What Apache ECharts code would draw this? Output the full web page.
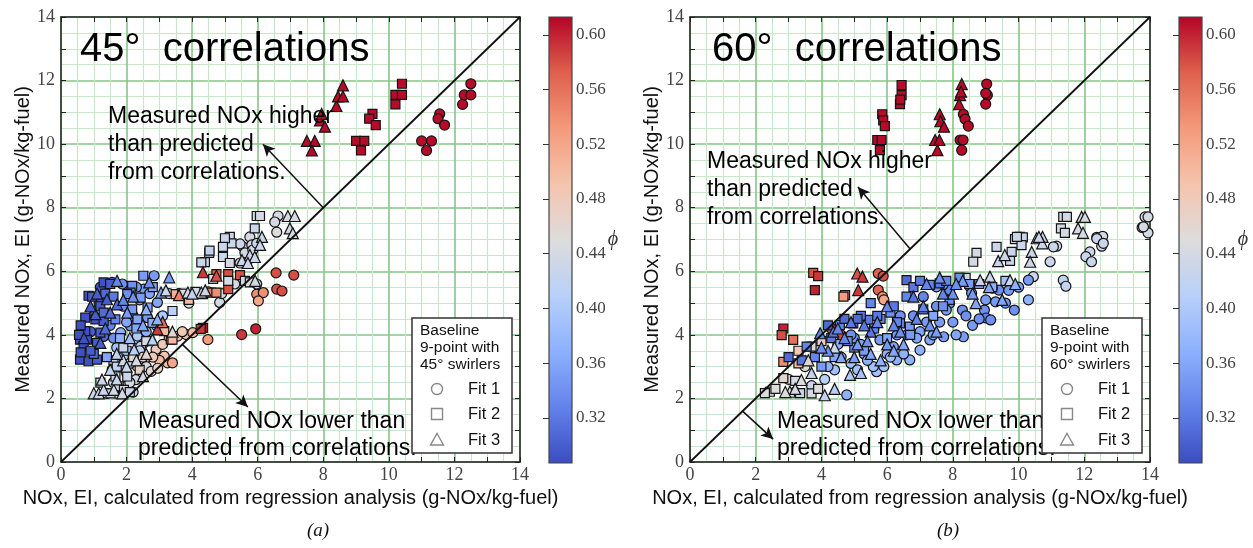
<!DOCTYPE html>
<html>
<head>
<meta charset="utf-8">
<script src="https://cdn.jsdelivr.net/npm/echarts@6/dist/echarts.min.js"></script>
<style>
html, body { margin: 0; padding: 0; background: #fff; }
#chart { width: 1253px; height: 548px; }
</style>
</head>
<body>
<div id="chart"></div>
<script>
// Equivalence-ratio range shown on the colour bars
const phiRange = [0.287, 0.613];
const phiTicks = [0.32, 0.36, 0.40, 0.44, 0.48, 0.52, 0.56, 0.60];
const axisRange = [0, 14];
const diagonal = [[0, 0], [14, 14]];

// Points are [calculated EI, measured EI, phi]
const fit1_45 = [
  [11.0,10.1,.61],[11.3,10.1,.61],[11.15,9.8,.61],[11.55,10.95,.61],[11.5,10.8,.61],[11.7,10.6,.61],
  [12.25,11.25,.61],[12.3,11.55,.61],[12.5,11.55,.61],[12.5,11.9,.61],
  [6.56,5.95,.58],[7.1,5.88,.58],[6.58,5.44,.58],[6.74,5.38,.58],[5.51,4.01,.59],[5.94,4.19,.6],
  [5.97,5.28,.54],[6.17,5.33,.54],[6.02,5.07,.52],[4.48,3.85,.53],
  [3.25,3.12,.5],[3.4,3.12,.52],[3.15,3.33,.49],[2.9,3.54,.48],[2.53,3.75,.49],[2.33,3.0,.48],
  [3.56,3.96,.5],[3.82,4.01,.49],[4.02,4.07,.5],[2.58,3.27,.49],[3.0,3.2,.5],[3.7,4.1,.48],[3.3,3.9,.5],
  [6.62,7.74,.44],[6.52,7.55,.44],[6.58,7.23,.45],[5.76,7.08,.44],[5.55,6.77,.43],[5.82,6.83,.44],
  [5.46,6.26,.44],[5.67,6.29,.43],[5.61,6.58,.44],[5.85,6.67,.44],[5.97,6.88,.43],[4.84,5.02,.44],
  [5.97,5.6,.43],[5.46,6.86,.43],
  [1.4,2.16,.42],[1.71,2.16,.43],[1.97,2.38,.43],[1.56,2.9,.43],[1.82,3.0,.42],[2.28,2.59,.44],
  [2.84,5.86,.35],[1.87,5.6,.34],[2.53,5.44,.35],[2.12,4.28,.35],[2.64,4.54,.35],[2.94,5.02,.36],
  [1.82,4.07,.37],[2.33,3.96,.4],[2.43,3.64,.42],[1.56,5.65,.3],[1.0,4.6,.3],[1.3,3.95,.31],
  [1.9,3.3,.41],[2.1,3.1,.43],[2.6,3.0,.44],[2.0,2.8,.44],[1.7,3.6,.39],[2.2,4.6,.36],[2.6,4.1,.37],
  [2.9,4.3,.38],[3.1,4.6,.4],[3.3,5.3,.43],[3.6,5.3,.44],[1.5,4.3,.33],[1.9,4.9,.34],[2.4,5.1,.35],
  [2.75,2.85,.46],[2.95,2.95,.47],
  [1.2,5.5,.3],[0.9,4.1,.3],[1.6,3.9,.34],[2.3,5.5,.35],[2.7,5.3,.36],[2.0,4.4,.36],[2.4,3.5,.42],
  [1.6,2.5,.43],[2.1,2.5,.44],[2.5,3.3,.46],[2.8,3.3,.48],[3.1,3.7,.48],[1.9,2.2,.43],[2.2,2.2,.43],
  [4.5,5.35,.43],[4.9,5.3,.44],[5.3,5.6,.44],[3.9,5.0,.45]
];
const fit2_45 = [
  [9.0,10.1,.61],[9.25,10.1,.61],[9.15,9.8,.61],[9.5,10.95,.61],[9.4,10.8,.61],[9.6,10.6,.61],
  [10.2,11.55,.61],[10.2,11.25,.61],[10.4,11.55,.61],[10.4,11.9,.61],
  [5.1,5.91,.58],[5.46,5.88,.58],[4.74,5.91,.57],[5.1,5.44,.58],[4.33,4.22,.6],[4.26,4.19,.59],
  [4.33,5.28,.54],[4.58,5.33,.55],[4.74,5.33,.54],[3.35,3.85,.55],
  [3.5,5.28,.51],[3.71,5.28,.52],[3.4,3.85,.5],[3.15,4.12,.5],[3.9,5.1,.5],
  [5.97,7.74,.44],[6.07,7.74,.44],[5.91,7.35,.43],[5.15,7.08,.43],[5.2,6.88,.43],[5.0,7.04,.43],
  [4.52,6.58,.42],[4.39,6.29,.43],[4.94,6.45,.43],[5.15,6.26,.44],[4.94,6.77,.43],[4.53,6.65,.42],
  [4.28,6.28,.43],[4.64,5.76,.44],[5.1,5.7,.44],[5.61,5.7,.44],[5.76,5.65,.45],
  [1.3,5.65,.29],[1.5,5.6,.3],[0.84,5.23,.29],[1.15,5.02,.29],[1.2,4.9,.3],[0.74,4.54,.29],
  [1.05,4.49,.29],[1.3,4.43,.3],[0.58,3.85,.29],[0.79,3.85,.29],[1.1,3.75,.3],[0.58,3.22,.29],
  [0.84,3.17,.29],[1.1,3.22,.3],[0.74,4.12,.29],[1.2,4.07,.3],[0.69,3.64,.29],[0.6,4.3,.29],
  [0.95,5.2,.3],[0.6,3.45,.29],[1.0,3.4,.31],
  [2.51,5.86,.35],[2.17,5.54,.34],[2.12,5.33,.34],[2.43,5.17,.35],[2.17,4.8,.35],[2.64,4.86,.36],
  [1.66,4.49,.33],[2.79,4.38,.37],[2.02,5.28,.34],[2.33,4.49,.36],[3.4,4.75,.41],[1.8,3.9,.37],[2.0,3.5,.39],
  [1.51,2.16,.43],[1.76,2.38,.43],[1.92,2.27,.44],[1.66,2.69,.43],[2.02,2.69,.43],[2.2,3.3,.46],
  [1.6,3.2,.44],[2.4,2.9,.47],[1.9,3.6,.43],
  [0.55,4.0,.29],[0.9,3.5,.3],[1.35,5.3,.31],[1.6,5.2,.32],[1.3,4.7,.31],[2.8,5.5,.36],[2.3,4.2,.36],
  [1.4,3.3,.36],[1.7,3.0,.42],[2.1,2.2,.43],[2.6,3.8,.44],[3.7,5.3,.44],[4.1,5.35,.44],[1.2,2.5,.43]
];
const fit3_45 = [
  [7.5,10.1,.61],[7.74,10.1,.61],[7.65,9.8,.61],[7.9,10.75,.61],[8.05,10.55,.61],[8.4,11.2,.61],
  [8.45,11.5,.61],[8.6,11.5,.61],[8.6,11.85,.61],[7.95,10.95,.61],
  [4.33,5.97,.59],[4.74,5.86,.58],[2.94,4.17,.59],[3.6,5.25,.55],[3.1,4.4,.56],
  [6.92,7.74,.44],[7.13,7.74,.44],[6.98,7.35,.44],[7.07,7.2,.44],[6.13,7.08,.43],[6.07,6.83,.43],
  [5.76,6.51,.43],[5.91,6.45,.43],[5.52,6.35,.43],[5.7,6.26,.43],[3.87,5.33,.44],[4.28,5.33,.44],
  [5.92,5.7,.44],[4.0,5.3,.42],
  [1.4,5.12,.3],[1.71,4.96,.31],[1.05,4.65,.3],[1.2,3.75,.3],[1.5,4.7,.31],[3.3,5.81,.35],
  [2.69,5.65,.34],[1.71,5.7,.33],[3.05,5.33,.36],[2.94,4.49,.37],[2.02,4.7,.35],[2.23,3.54,.41],
  [2.79,3.85,.41],[1.9,5.1,.33],[2.5,4.3,.36],
  [1.0,2.16,.43],[1.15,2.16,.43],[1.3,2.27,.43],[1.25,2.59,.43],[1.61,2.27,.44],[1.87,2.16,.44],
  [1.5,2.9,.42],[1.9,3.2,.43],[2.3,3.2,.44],[1.7,3.4,.42],[2.6,3.4,.46],
  [1.1,5.3,.3],[0.9,4.9,.3],[0.7,3.9,.29],[1.35,4.2,.31],[2.2,5.2,.34],[2.6,4.8,.37],[2.1,3.9,.39],
  [2.0,3.0,.43],[2.5,2.7,.44],[1.7,2.6,.43],[3.4,4.1,.46],[3.2,5.4,.43],[4.4,5.4,.43]
];

const fit1_60 = [
  [9.03,11.89,.61],[9.05,11.54,.61],[9.0,11.26,.61],[8.32,10.94,.61],[8.37,10.79,.61],[8.47,10.57,.61],
  [8.22,10.13,.61],[8.31,10.13,.61],[8.27,9.81,.61],[9.0,11.6,.61],
  [5.73,5.93,.57],[5.88,5.85,.58],[5.73,5.41,.57],[5.86,5.2,.54],[5.9,5.1,.52],[4.3,4.2,.57],[4.6,4.0,.58],
  [13.85,7.71,.44],[13.94,7.71,.44],[13.76,7.38,.44],[13.94,7.21,.44],[12.38,7.07,.44],[12.56,7.1,.44],
  [12.53,6.79,.44],[11.16,6.79,.43],[11.06,6.77,.43],[10.96,6.3,.43],[12.17,6.61,.43],[12.05,6.46,.43],
  [12.22,6.3,.43],[12.38,7.03,.43],[12.58,6.88,.43],[11.36,5.72,.42],[11.44,5.53,.42],[10.45,5.83,.43],
  [13.8,7.4,.44],
  [10.3,5.72,.35],[9.87,4.78,.34],[8.96,4.78,.34],[9.01,4.53,.33],[9.15,4.47,.34],[9.3,5.04,.35],
  [9.4,5.41,.34],[9.2,5.47,.35],[8.52,5.51,.34],[8.57,5.31,.35],[8.29,4.78,.34],[7.9,5.41,.33],
  [7.9,4.99,.34],[7.7,5.57,.34],[7.5,5.51,.35],[7.8,4.78,.35],[7.72,3.94,.35],[8.32,3.94,.35],
  [4.77,2.11,.37],[5.68,2.84,.39],[5.78,3.84,.35],[6.19,3.63,.36],[6.69,3.21,.37],[6.29,3.21,.37],
  [5.58,3.0,.39],[7.3,3.84,.36],[7.0,3.52,.37],[6.8,4.6,.34],[7.2,4.4,.35],[6.3,4.0,.35],[5.3,3.4,.37],
  [4.9,3.1,.39],[4.4,2.9,.39],[4.1,2.6,.41],[3.7,2.4,.43],[3.2,2.2,.44],[8.6,4.3,.35],[10.3,5.1,.37],
  [9.6,5.0,.35],[7.0,4.1,.36],[6.0,3.4,.37],[5.2,3.7,.36],[8.0,4.4,.35],
  [4.2,3.0,.37],[4.6,3.3,.37],[5.0,3.9,.35],[5.4,3.2,.37],[5.9,3.0,.39],[6.1,3.3,.39],[6.5,3.4,.37],
  [6.6,4.0,.35],[6.9,3.9,.36],[7.4,4.0,.36],[7.6,4.4,.35],[8.1,4.0,.36],[8.4,4.6,.34],[8.8,4.5,.34],
  [9.0,5.1,.35],[9.7,5.4,.35],[10.0,5.5,.36],[7.1,5.2,.33],[7.5,4.9,.34],[6.4,4.6,.34],[5.6,4.2,.35],
  [4.9,4.0,.34],[5.1,2.9,.39],[4.5,3.7,.37],[3.9,3.6,.41],[3.5,3.0,.45],[3.0,2.6,.46]
];
const fit2_60 = [
  [6.44,11.86,.61],[6.44,11.54,.61],[6.39,11.26,.61],[5.85,10.94,.61],[5.88,10.75,.61],[5.93,10.57,.61],
  [5.7,10.13,.61],[5.83,10.13,.61],[5.78,9.81,.61],[6.4,11.4,.61],
  [3.75,5.95,.58],[3.9,5.85,.59],[3.8,5.41,.6],[2.84,4.2,.6],[2.79,3.99,.58],[3.14,3.84,.56],
  [4.72,5.25,.54],[4.67,5.2,.53],[2.84,3.15,.54],[3.3,3.1,.5],
  [11.36,7.71,.44],[11.47,7.71,.44],[11.29,7.35,.44],[11.41,7.21,.44],[10.04,7.08,.43],[10.13,7.07,.43],
  [9.89,7.01,.43],[8.72,6.58,.44],[8.62,6.3,.44],[9.33,6.77,.43],[9.79,6.61,.43],[9.74,6.33,.43],
  [10.09,6.82,.43],[9.95,7.08,.43],[8.39,5.79,.43],
  [2.43,2.21,.45],[2.28,2.17,.45],[2.84,2.64,.46],[3.7,2.16,.44],[3.35,2.17,.43],[3.7,3.63,.46],
  [3.3,3.5,.48],[4.0,3.8,.47],
  [4.97,4.36,.31],[5.43,4.47,.32],[4.56,4.31,.33],[3.55,3.63,.33],[6.59,5.72,.31],[6.59,5.2,.33],
  [7.3,5.57,.33],[7.6,5.62,.32],[6.39,4.36,.34],[6.69,4.26,.35],[5.8,4.5,.33],[6.1,4.7,.34],
  [7.9,5.1,.34],[8.5,5.6,.35],[9.2,5.5,.37],[6.0,3.9,.36],[5.0,3.6,.35],[4.4,3.3,.36],[7.4,4.6,.36],
  [5.5,5.0,.33],[3.0,3.3,.31],[4.0,3.0,.35],[5.2,4.6,.32],
  [4.2,4.3,.31],[4.7,4.5,.31],[5.1,4.5,.31],[5.7,4.6,.32],[6.2,4.9,.32],[6.8,5.5,.32],[7.0,5.7,.32],
  [7.8,5.7,.33],[8.2,5.8,.34],[8.8,5.6,.35],[5.6,4.2,.33],[6.3,4.4,.33],[7.1,4.8,.33],[7.7,4.9,.34],
  [4.8,3.8,.34],[5.3,3.5,.35],[3.8,3.3,.33],[3.4,3.2,.32],[4.3,3.9,.32],[6.7,4.0,.35],[9.6,5.7,.39],
  [3.9,2.3,.45],[2.6,2.3,.45],[3.2,2.55,.44]
];
const fit3_60 = [
  [8.27,11.89,.61],[8.22,11.54,.61],[8.19,11.26,.61],[7.6,10.94,.61],[7.62,10.72,.61],[7.73,10.55,.61],
  [7.46,10.13,.61],[7.59,10.13,.61],[7.53,9.81,.61],[8.25,11.65,.61],
  [5.09,5.93,.58],[5.25,5.83,.59],[5.12,5.41,.59],
  [11.92,7.71,.44],[12.02,7.71,.44],[11.81,7.35,.44],[11.96,7.21,.44],[10.55,7.04,.43],[10.73,7.08,.43],
  [9.38,6.32,.43],[9.58,6.51,.43],[10.4,6.61,.43],[10.35,6.3,.43],[10.72,6.88,.43],[10.62,7.08,.43],
  [9.74,5.72,.43],[8.83,5.72,.43],[9.13,5.83,.43],
  [4.1,2.1,.42],[3.39,2.58,.45],[3.04,2.21,.45],[3.2,2.3,.44],[2.9,2.2,.45],[4.87,2.74,.4],
  [4.4,3.6,.43],[3.6,3.2,.46],
  [4.36,4.1,.32],[3.96,4.05,.33],[5.0,3.3,.35],[5.5,4.1,.32],[6.2,4.3,.33],[6.8,5.2,.32],[7.1,4.9,.33],
  [7.6,5.8,.34],[8.0,5.3,.34],[8.3,5.7,.35],[5.8,3.2,.37],[6.5,3.7,.36],[7.3,4.3,.34],[4.7,3.9,.33],
  [5.3,4.3,.32],[6.0,4.9,.33],[8.7,5.0,.36],[9.5,5.1,.36],[4.2,3.5,.34],
  [4.0,3.6,.34],[4.5,4.2,.33],[4.9,4.4,.32],[5.4,3.8,.34],[5.7,4.4,.33],[6.0,3.7,.35],[6.4,4.1,.34],
  [6.9,4.5,.33],[7.2,5.6,.33],[7.7,5.3,.33],[8.1,5.6,.34],[8.6,5.3,.35],[9.1,5.5,.36],[9.9,5.6,.37],
  [7.5,4.1,.35],[5.1,3.7,.35],[5.5,3.4,.36],[6.2,3.5,.36],[4.6,3.3,.36],[3.7,2.8,.42],[4.4,2.3,.41],
  [5.2,2.8,.39]
];

// Annotation arrows: [fromX, fromY, toX, toY]
const arrows45 = [[8, 8, 6.16, 10.0], [3.7, 3.7, 5.7, 1.73]];
const arrows60 = [[6.7, 6.7, 5.11, 8.65], [1.6, 1.6, 2.53, 0.72]];

const fitNames = ['Fit 1', 'Fit 2', 'Fit 3'];
const fitSymbols = ['circle', 'rect', 'triangle'];
const fitSizes = [10, 9, 11];

// matplotlib "coolwarm"
const coolwarm = ['#3b4cc0', '#6282ea', '#8db0fe', '#b8d0f9', '#dddcdc', '#f5c4ad', '#f49a7b', '#de604d', '#b40426'];

const SANS = '"Liberation Sans", Arial, sans-serif';
const SERIF = '"Liberation Serif", "DejaVu Serif", serif';
const MAJOR = '#86c686';
const MINOR = '#c8e6c8';
const FRAME = '#222';

const panels = [
  { left: 61, width: 459, cb: 549, fits: [fit1_45, fit2_45, fit3_45], arrows: arrows45,
    title: '45°  correlations', titleX: 80, upX: 108, lowX: 138, legX: 412, swirl: '45', phiX: 613, cap: '(a)', capX: 318 },
  { left: 690, width: 460, cb: 1179, fits: [fit1_60, fit2_60, fit3_60], arrows: arrows60,
    title: '60°  correlations', titleX: 712, upX: 707, lowX: 777, legX: 1042, swirl: '60', phiX: 1243, cap: '(b)', capX: 948 }
];
const TOP = 17, HEIGHT = 445;

const grids = [], xAxes = [], yAxes = [], series = [], graphics = [];
const scatterIdx = [];

function frameAxes(gi, isX) {
  const base = { type: 'value', gridIndex: gi, min: axisRange[0], max: axisRange[1] };
  const line = { show: true, onZero: false, lineStyle: { color: FRAME, width: 1.5 } };
  const tick = { show: true, inside: true, length: 5, lineStyle: { color: FRAME, width: 1 } };
  const main = Object.assign({}, base, {
    position: isX ? 'bottom' : 'left', interval: 2,
    axisLine: line, axisTick: { show: false },
    axisLabel: { show: true, margin: isX ? 4 : 6, fontFamily: SERIF, fontSize: 18, color: '#444' },
    splitLine: { show: true, lineStyle: { color: MAJOR, width: 1.6 } },
    minorTick: { show: false, splitNumber: 4 },
    minorSplitLine: { show: true, lineStyle: { color: MINOR, width: 1.2 } },
    name: isX ? 'NOx, EI, calculated from regression analysis (g-NOx/kg-fuel)' : 'Measured NOx, EI (g-NOx/kg-fuel)',
    nameLocation: 'middle', nameGap: isX ? 21 : 27,
    nameTextStyle: { fontFamily: SANS, fontSize: 20, color: '#111' }
  });
  const near = Object.assign({}, base, {
    position: isX ? 'bottom' : 'left', interval: 1,
    axisLine: { show: false }, axisTick: tick, axisLabel: { show: false }, splitLine: { show: false }
  });
  const far = Object.assign({}, base, {
    position: isX ? 'top' : 'right', interval: 1,
    axisLine: line, axisTick: tick, axisLabel: { show: false }, splitLine: { show: false }
  });
  return [main, near, far];
}

panels.forEach((p, k) => {
  const gi = grids.length;
  grids.push({ left: p.left, top: TOP, width: p.width, height: HEIGHT, containLabel: false });
  const axIndex = xAxes.length;
  xAxes.push(...frameAxes(gi, true));
  yAxes.push(...frameAxes(gi, false));

  // y = x reference line with the two annotation arrows
  series.push({
    type: 'line', xAxisIndex: axIndex, yAxisIndex: axIndex, data: diagonal,
    showSymbol: false, silent: true, z: 5,
    lineStyle: { color: '#111', width: 1.8 },
    markLine: {
      silent: true, symbol: ['none', 'arrow'], symbolSize: [9, 12],
      lineStyle: { color: '#111', width: 1.5, type: 'solid' },
      label: { show: false },
      data: p.arrows.map(a => [{ coord: [a[0], a[1]] }, { coord: [a[2], a[3]] }])
    }
  });
  p.fits.forEach((d, j) => {
    scatterIdx.push(series.length);
    series.push({
      type: 'scatter', name: fitNames[j], xAxisIndex: axIndex, yAxisIndex: axIndex,
      data: d, symbol: fitSymbols[j], symbolSize: fitSizes[j], z: 3,
      itemStyle: { borderColor: '#141414', borderWidth: 1.2, opacity: 1 },
      emphasis: { disabled: true }
    });
  });

  // colour bar
  const cg = grids.length;
  grids.push({
    left: p.cb, top: TOP, width: 23, height: HEIGHT + 1, show: true,
    borderColor: '#444', borderWidth: 1.2,
    backgroundColor: {
      type: 'linear', x: 0, y: 0, x2: 0, y2: 1,
      colorStops: coolwarm.slice().reverse().map((c, i) => ({ offset: i / (coolwarm.length - 1), color: c }))
    }
  });
  xAxes.push({ type: 'value', gridIndex: cg, show: false, min: 0, max: 1 });
  yAxes.push({
    type: 'value', gridIndex: cg, position: 'right', min: phiRange[0], max: phiRange[1],
    axisLine: { show: false },
    axisTick: { show: true, inside: true, length: 6, lineStyle: { color: '#333' }, customValues: phiTicks },
    axisLabel: { show: true, margin: 4, fontFamily: SERIF, fontSize: 17, color: '#444',
      customValues: phiTicks, formatter: v => v.toFixed(2) },
    splitLine: { show: false }
  });

  // texts drawn over the plot
  graphics.push(
    { type: 'text', x: p.titleX, y: 50, z: 100,
      style: { text: p.title, fontFamily: SANS, fontSize: 40, fill: '#000', verticalAlign: 'middle' } },
    { type: 'text', x: p.upX, y: k === 0 ? 103 : 148, z: 100,
      style: { text: 'Measured NOx higher\nthan predicted\nfrom correlations.', fontFamily: SANS, fontSize: 23,
        lineHeight: 28, fill: '#000', verticalAlign: 'top' } },
    { type: 'text', x: p.lowX, y: 408, z: 100,
      style: { text: 'Measured NOx lower than\npredicted from correlations.', fontFamily: SANS, fontSize: 23,
        lineHeight: 27, fill: '#000', verticalAlign: 'top' } },
    { type: 'text', x: p.phiX, y: 240, z: 100,
      style: { text: 'ϕ', fontFamily: SERIF, fontStyle: 'italic', fontSize: 20, fill: '#333',
        align: 'center', verticalAlign: 'middle' } },
    { type: 'text', x: p.capX, y: 531, z: 100,
      style: { text: p.cap, fontFamily: SERIF, fontStyle: 'italic', fontSize: 19, fill: '#111',
        align: 'center', verticalAlign: 'middle' } }
  );

  // legend box
  const lx = p.legX, ly = 318;
  const iconX = lx + 25, textX = lx + 56;
  const rows = [389, 414, 440];
  graphics.push(
    { type: 'rect', z: 100, shape: { x: lx, y: ly, width: 100, height: 135 },
      style: { fill: '#fff', stroke: '#333', lineWidth: 1.5 } },
    { type: 'text', z: 101, x: lx + 8, y: ly + 4,
      style: { text: 'Baseline\n9-point with\n' + p.swirl + '° swirlers', fontFamily: SANS, fontSize: 15.5,
        lineHeight: 17, fill: '#111', verticalAlign: 'top' } },
    { type: 'circle', z: 101, shape: { cx: iconX, cy: rows[0], r: 5.5 },
      style: { fill: 'none', stroke: '#888', lineWidth: 1.4 } },
    { type: 'rect', z: 101, shape: { x: iconX - 5.5, y: rows[1] - 5.5, width: 11, height: 11 },
      style: { fill: 'none', stroke: '#888', lineWidth: 1.4 } },
    { type: 'polygon', z: 101, shape: { points: [[iconX, rows[2] - 6.5], [iconX + 6.5, rows[2] + 5], [iconX - 6.5, rows[2] + 5]] },
      style: { fill: 'none', stroke: '#888', lineWidth: 1.4 } }
  );
  fitNames.forEach((n, j) => graphics.push({
    type: 'text', z: 101, x: textX, y: rows[j],
    style: { text: n, fontFamily: SANS, fontSize: 16.5, fill: '#111', verticalAlign: 'middle' }
  }));
});

const chart = echarts.init(document.getElementById('chart'), null, { renderer: 'canvas' });
chart.setOption({
  animation: false,
  backgroundColor: '#fff',
  grid: grids,
  xAxis: xAxes,
  yAxis: yAxes,
  visualMap: {
    type: 'continuous', show: false, dimension: 2, seriesIndex: scatterIdx,
    min: phiRange[0], max: phiRange[1], inRange: { color: coolwarm }
  },
  series: series,
  graphic: graphics
});
</script>
</body>
</html>
